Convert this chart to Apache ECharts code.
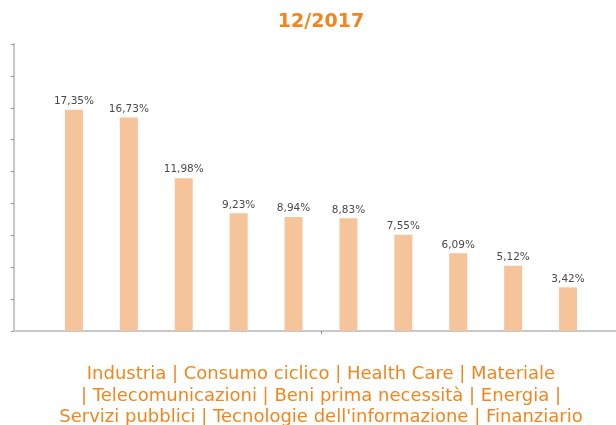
<!DOCTYPE html>
<html>
<head>
<meta charset="utf-8">
<script src="https://cdn.jsdelivr.net/npm/echarts@6/dist/echarts.min.js"></script>
<style>
  html, body { margin: 0; padding: 0; background: #fff; }
  #chart { width: 616px; height: 425px; }
</style>
</head>
<body>
<div id="chart"></div>
<script>
const period = '12/2017'
const sectors = [
  'Industria', 'Consumo ciclico', 'Health Care', 'Materiale',
  'Telecomunicazioni', 'Beni prima necessità', 'Energia',
  'Servizi pubblici', "Tecnologie dell'informazione", 'Finanziario',
]
const weights = [17.35, 16.73, 11.98, 9.23, 8.94, 8.83, 7.55, 6.09, 5.12, 3.42]
const yTicks = [0, 2.5, 5, 7.5, 10, 12.5, 15, 17.5, 20, 22.5]

const orange = '#f2851e'
const barColor = '#f6c49a'

// sector list under the chart, broken the same way as the original
const sectorLines = [
  sectors.slice(0, 4).join(' | '),
  '| ' + sectors.slice(4, 7).join(' | ') + ' |',
  sectors.slice(7).join(' | '),
]

const chart = echarts.init(document.getElementById('chart'))

const option = {
  backgroundColor: '#fff',
  animation: false,
  title: [
    {
      text: period,
      left: 321,
      top: 13,
      textAlign: 'center',
      padding: 0,
      textStyle: {
        fontFamily: 'DejaVu Sans',
        fontSize: 19,
        fontWeight: 'bold',
        color: orange,
      },
    },
    {
      text: sectorLines.join('\n'),
      left: 321,
      top: 364,
      textAlign: 'center',
      padding: 0,
      textStyle: {
        fontFamily: 'DejaVu Sans',
        fontSize: 18,
        fontWeight: 'normal',
        lineHeight: 21.5,
        color: orange,
      },
    },
  ],
  grid: {
    left: 14,
    top: 44,
    width: 614,
    bottom: 94,
    outerBoundsMode: 'none',
  },
  xAxis: {
    type: 'category',
    data: [period],
    axisLine: { lineStyle: { color: '#c8c8c8', width: 2 } },
    axisTick: { show: true, alignWithLabel: true, length: 3, lineStyle: { color: '#888' } },
    axisLabel: { show: false },
  },
  yAxis: {
    type: 'value',
    min: yTicks[0],
    max: yTicks[yTicks.length - 1],
    interval: yTicks[1] - yTicks[0],
    axisLine: { show: true, lineStyle: { color: '#c8c8c8', width: 2 } },
    axisTick: { show: true, length: 3, lineStyle: { color: '#999' } },
    axisLabel: { show: false },
    splitLine: { show: false },
  },
  series: sectors.map((name, i) => ({
    name,
    type: 'bar',
    data: [weights[i]],
    barWidth: 18,
    barGap: '205%',
    itemStyle: { color: barColor },
    label: {
      show: true,
      position: 'top',
      distance: 3,
      fontFamily: 'DejaVu Sans',
      fontSize: 10.5,
      color: '#4a4a4a',
      formatter: p => p.value.toFixed(2).replace('.', ',') + '%',
    },
  })),
}

chart.setOption(option)
</script>
</body>
</html>
